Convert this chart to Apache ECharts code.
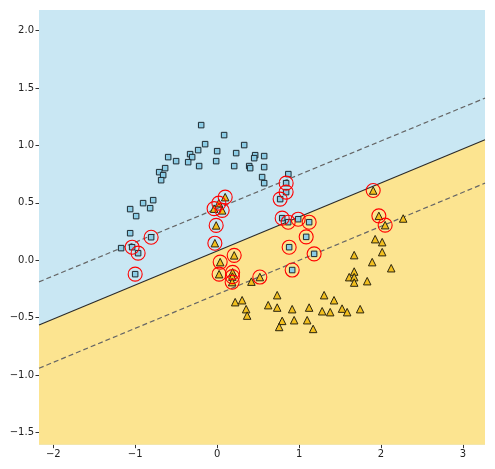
<!DOCTYPE html>
<html>
<head>
<meta charset="utf-8">
<script src="https://cdn.jsdelivr.net/npm/echarts@6/dist/echarts.min.js"></script>
<style>
  html, body { margin: 0; padding: 0; background: #fff; }
  #chart { width: 495px; height: 469px; }
</style>
</head>
<body>
<div id="chart"></div>
<script>
// axis limits and ticks
var xRange = [-2.175, 3.27];
var yRange = [-1.608, 2.18];
var xTicks = [-2, -1, 0, 1, 2, 3];
var yTicks = [-1.5, -1.0, -0.5, 0.0, 0.5, 1.0, 1.5, 2.0];

// decision boundary and margins, y at the left and right edge
var boundaryY = [-0.564, 1.049];
var marginUpY = [-0.189, 1.412];
var marginLowY = [-0.942, 0.671];

// class 0 (squares)
var squares = [
  [-0.195, 1.177], [0.085, 1.090], [-0.147, 1.011], [0.000, 0.950], [-0.232, 0.959],
  [-0.330, 0.924], [-0.305, 0.898], [-0.354, 0.854], [-0.012, 0.863], [-0.220, 0.820],
  [-0.598, 0.898], [-0.501, 0.863], [-0.635, 0.802], [-0.708, 0.767], [-0.659, 0.741],
  [-0.684, 0.697], [-0.781, 0.523], [-0.904, 0.497], [-0.818, 0.453], [-1.062, 0.445],
  [0.330, 1.003], [0.232, 0.933], [0.464, 0.915], [0.452, 0.889], [0.574, 0.907],
  [0.208, 0.820], [0.391, 0.820], [0.403, 0.802], [0.574, 0.811], [0.549, 0.724],
  [0.574, 0.671], [0.869, 0.750], [0.842, 0.671], [0.842, 0.593], [0.769, 0.532],
  [0.794, 0.366], [0.867, 0.331], [0.989, 0.357], [1.123, 0.331], [1.087, 0.203],
  [0.879, 0.113], [1.184, 0.055], [0.916, -0.086], [-0.989, 0.384], [-1.062, 0.235],
  [-0.806, 0.200], [-1.172, 0.105], [-1.038, 0.113], [-0.965, 0.061], [-1.001, -0.122]
];
var squaresSV = [
  0, 0, 0, 0, 0, 0, 0, 0, 0, 0,
  0, 0, 0, 0, 0, 0, 0, 0, 0, 0,
  0, 0, 0, 0, 0, 0, 0, 0, 0, 0,
  0, 0, 1, 1, 1, 1, 1, 1, 1, 1,
  1, 1, 1, 0, 0, 1, 0, 1, 1, 1
];

// class 1 (triangles)
var triangles = [
  [0.098, 0.549], [0.021, 0.497], [-0.037, 0.449], [0.061, 0.434], [-0.012, 0.303],
  [-0.028, 0.148], [0.208, 0.042], [0.037, -0.017], [0.024, -0.122], [0.189, -0.106],
  [0.186, -0.143], [0.183, -0.191], [0.521, -0.147], [0.418, -0.187], [0.733, -0.305],
  [1.306, -0.305], [1.427, -0.349], [0.220, -0.366], [0.305, -0.349], [0.623, -0.392],
  [0.733, -0.413], [0.916, -0.427], [1.123, -0.413], [0.354, -0.427], [0.366, -0.483],
  [1.282, -0.445], [1.380, -0.453], [1.525, -0.422], [1.587, -0.453], [0.940, -0.523],
  [0.794, -0.529], [0.757, -0.582], [1.099, -0.523], [1.172, -0.599], [1.905, 0.607],
  [1.974, 0.386], [2.051, 0.305], [2.271, 0.363], [1.929, 0.183], [2.015, 0.157],
  [2.015, 0.070], [1.673, 0.044], [1.893, -0.017], [2.125, -0.070], [1.673, -0.099],
  [1.612, -0.148], [1.673, -0.148], [1.673, -0.195], [1.832, -0.183], [1.746, -0.427]
];
var trianglesSV = [
  1, 1, 1, 1, 1, 1, 1, 1, 1, 1,
  1, 1, 1, 0, 0, 0, 0, 0, 0, 0,
  0, 0, 0, 0, 0, 0, 0, 0, 0, 0,
  0, 0, 0, 0, 1, 1, 1, 0, 0, 0,
  0, 0, 0, 0, 0, 0, 0, 0, 0, 0
];

var supportVectors = squares.filter(function (p, i) { return squaresSV[i]; })
  .concat(triangles.filter(function (p, i) { return trianglesSV[i]; }));

function edgeLine(ys) {
  return [[xRange[0], ys[0]], [xRange[1], ys[1]]];
}

function minus(s) { return String(s).replace('-', '\u2212'); }

var chart = echarts.init(document.getElementById('chart'));

var option = {
  animation: false,
  grid: {
    left: 39, right: 10, top: 10, bottom: 24.3,
    show: true,
    backgroundColor: '#c9e7f3',
    borderWidth: 0
  },
  xAxis: {
    type: 'value',
    min: xRange[0], max: xRange[1],
    splitLine: { show: false },
    axisLine: { show: false, onZero: false },
    axisTick: { show: true, length: 3.5, lineStyle: { color: '#333' }, customValues: xTicks },
    axisLabel: {
      customValues: xTicks,
      color: '#222', fontSize: 10, fontFamily: 'DejaVu Sans', margin: 5,
      formatter: function (v) { return minus(v); }
    }
  },
  yAxis: {
    type: 'value',
    min: yRange[0], max: yRange[1],
    splitLine: { show: false },
    axisLine: { show: false, onZero: false },
    axisTick: { show: true, length: 3.5, lineStyle: { color: '#333' }, customValues: yTicks },
    axisLabel: {
      customValues: yTicks,
      color: '#222', fontSize: 10, fontFamily: 'DejaVu Sans', margin: 5,
      formatter: function (v) { return minus(v.toFixed(1)); }
    }
  },
  series: [
    {
      type: 'line',
      data: edgeLine(boundaryY),
      symbol: 'none',
      lineStyle: { color: '#2a2a2a', width: 1.1 },
      areaStyle: { color: '#fce490', opacity: 1, origin: 'start' },
      z: 1
    },
    {
      type: 'line',
      data: edgeLine(marginUpY),
      symbol: 'none',
      lineStyle: { color: '#666', width: 1.2, type: [5, 3] },
      z: 2
    },
    {
      type: 'line',
      data: edgeLine(marginLowY),
      symbol: 'none',
      lineStyle: { color: '#666', width: 1.2, type: [5, 3] },
      z: 2
    },
    {
      type: 'scatter',
      data: squares,
      symbol: 'rect',
      symbolSize: 5.5,
      itemStyle: { color: '#8ccde6', borderColor: '#1e2a30', borderWidth: 1, opacity: 1 },
      z: 3
    },
    {
      type: 'scatter',
      data: triangles,
      symbol: 'triangle',
      symbolSize: 7.5,
      itemStyle: { color: '#f2bf1d', borderColor: '#2a2410', borderWidth: 1, opacity: 1 },
      z: 3
    },
    {
      type: 'scatter',
      data: supportVectors,
      symbol: 'circle',
      symbolSize: 14,
      itemStyle: { color: 'rgba(0,0,0,0)', borderColor: '#ff0000', borderWidth: 1.1, opacity: 1 },
      z: 4
    }
  ]
};

chart.setOption(option);
</script>
</body>
</html>
